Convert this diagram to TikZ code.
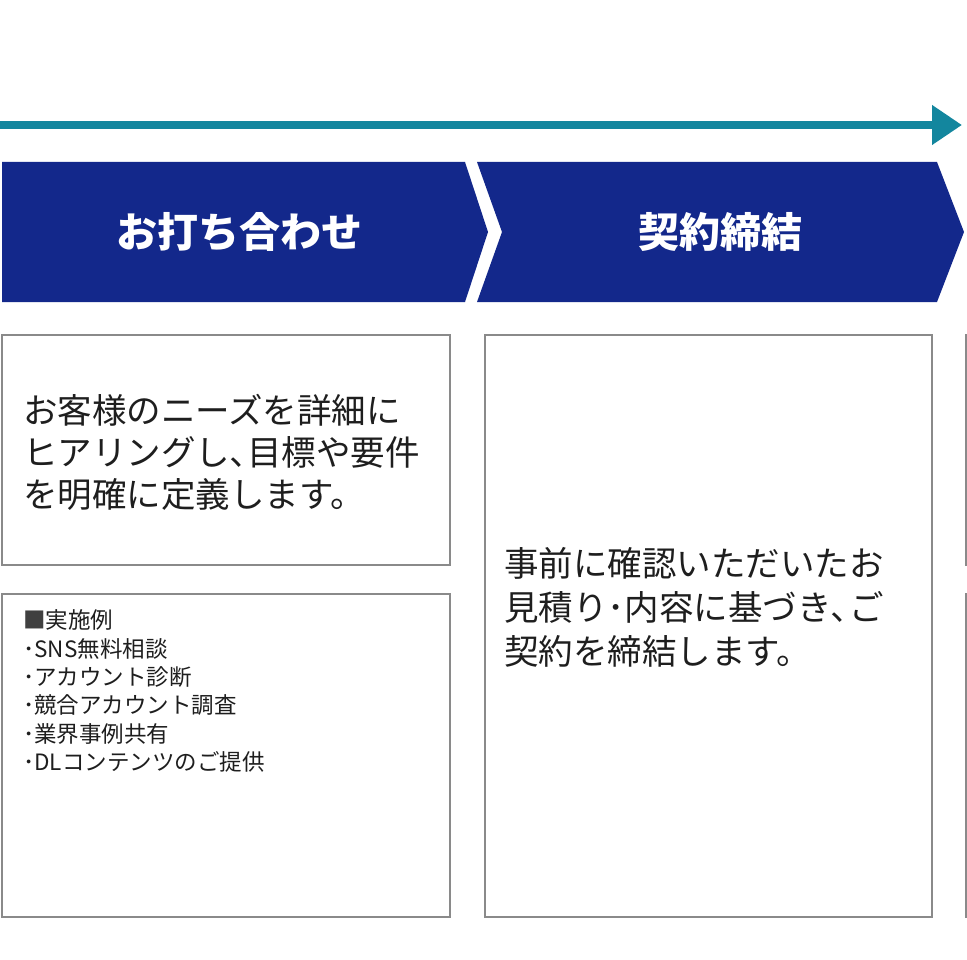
\documentclass[tikz,border=0pt]{standalone}
\usepackage{fontspec}
\setmainfont{Noto Sans CJK JP}
\usepackage{xcolor}
\usetikzlibrary{positioning,arrows.meta}

\definecolor{flowteal}{HTML}{13869E}
\definecolor{stagenavy}{HTML}{13288B}
\definecolor{cardgray}{HTML}{8A8A8A}
\definecolor{inkgray}{HTML}{1E1E1E}

\begin{document}
\begin{tikzpicture}[
    x=1pt,
    y=-1pt,
    >={Triangle[length=30pt,width=38pt]},
    line join=miter
]

\tikzstyle{stage}=[
    fill=stagenavy,
    draw=none
]
\tikzstyle{stagetext}=[
    text=white,
    font=\fontsize{41}{48}\selectfont\bfseries,
    inner sep=0pt
]
\tikzstyle{card}=[
    draw=cardgray,
    line width=1.6pt
]
\tikzstyle{cardtext}=[
    text=inkgray,
    align=left,
    anchor=west,
    inner sep=0pt
]

\useasboundingbox (0,0) rectangle (967,960);
\clip (0,0) rectangle (967,960);

% time line
\coordinate (start) at (0,125);
\coordinate (goal) at (962,125);
\draw[->, flowteal, line width=8pt] (start) -- (goal);

% stages
\path[stage] (2,162) -- (465,162) -- (488,232) -- (465,302) -- (2,302) -- cycle;
\path[stage] (477,162) -- (937,162) -- (964,232) -- (937,302) -- (477,302) -- (502,232) -- cycle;

\node[stagetext] (meeting) at (239,232) {お打ち合わせ};
\node[stagetext] (contract) at (720,232) {契約締結};

% cards
\draw[card] (2,335) rectangle (450,565);
\draw[card] (2,594) rectangle (450,917);
\draw[card] (485,335) rectangle (932,917);
\draw[card] (966,335) rectangle (1400,565);
\draw[card] (966,594) rectangle (1400,917);

\node[cardtext, font=\fontsize{34.5}{42}\selectfont] (needs) at (23,452)
    {お客様のニーズを詳細に\\ヒアリングし､目標や要件\\を明確に定義します。};

\node[cardtext, font=\fontsize{22.5}{28.3}\selectfont] (examples) at (23,691)
    {{\color{darkgray}■}実施例\\･SNS無料相談\\･アカウント診断\\･競合アカウント調査\\･業界事例共有\\･DLコンテンツのご提供};

\node[cardtext, font=\fontsize{34.5}{44}\selectfont] (agree) at (504,607)
    {事前に確認いただいたお\\見積り･内容に基づき､ご\\契約を締結します。};

\end{tikzpicture}
\end{document}
